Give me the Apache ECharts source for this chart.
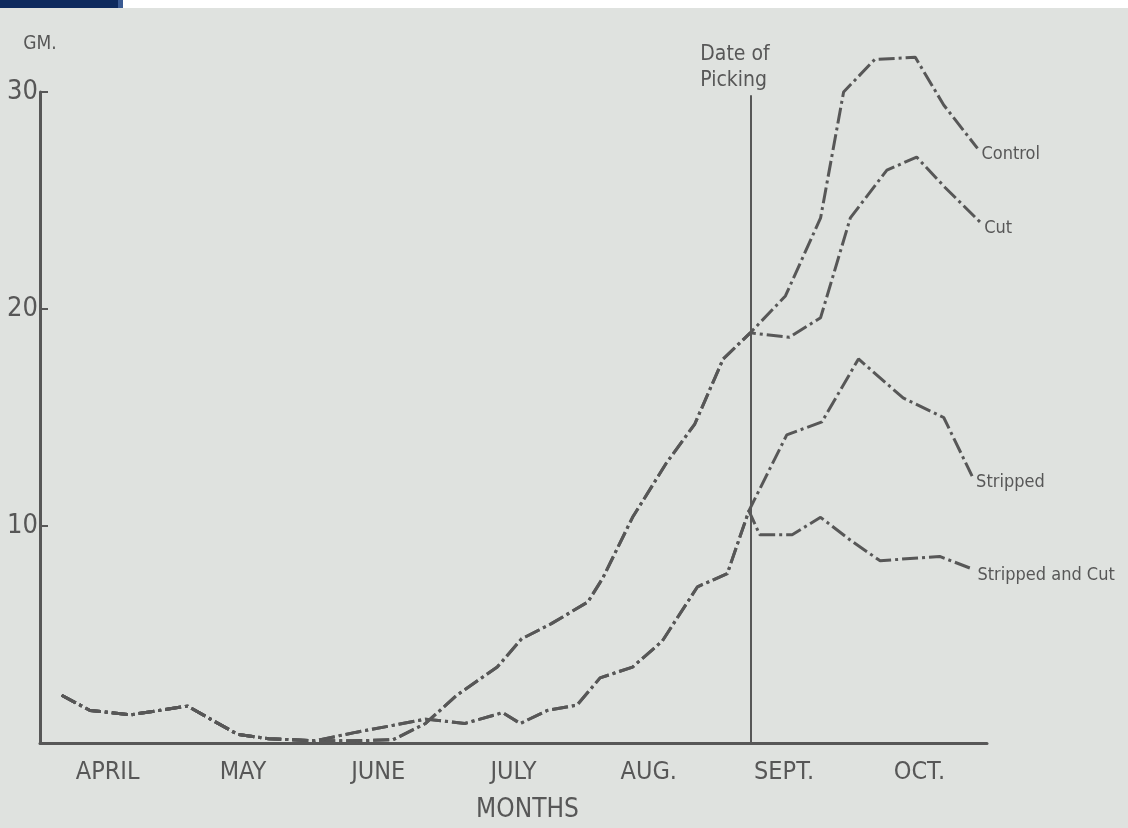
<!DOCTYPE html>
<html>
<head>
<meta charset="utf-8">
<script src="https://cdn.jsdelivr.net/npm/echarts@6/dist/echarts.min.js"></script>
<style>
  html, body { margin: 0; padding: 0; background: #dfe2df; }
  #chart { width: 1128px; height: 828px; }
</style>
</head>
<body>
<div id="chart"></div>
<script>
// months along the bottom, values in GM. x is measured in months from start of April
var months = ['APRIL', 'MAY', 'JUNE', 'JULY', 'AUG.', 'SEPT.', 'OCT.']
var yTicks = [0, 10, 20, 30]
var pickingDate = 5.25

// all four lots together until early June
var earlyAll = [[0.16, 2.2], [0.37, 1.5], [0.67, 1.3], [1.09, 1.7], [1.46, 0.4], [1.69, 0.2], [2.03, 0.1]]
// control + cut (same until picking)
var preUnstripped = [[2.31, 0.1], [2.61, 0.15], [2.85, 0.9], [3.08, 2.2], [3.38, 3.5], [3.56, 4.8], [3.78, 5.5],
  [4.05, 6.5], [4.16, 7.6], [4.38, 10.4], [4.63, 12.9], [4.84, 14.7], [5.05, 17.7], [5.25, 18.9]]
// stripped + stripped and cut (same until picking)
var preStripped = [[2.34, 0.5], [2.6, 0.8], [2.85, 1.1], [3.14, 0.9], [3.42, 1.4], [3.55, 0.9], [3.75, 1.5],
  [3.97, 1.75], [4.14, 3.0], [4.38, 3.5], [4.6, 4.7], [4.86, 7.2], [5.08, 7.8], [5.24, 10.7]]
// after picking
var controlTail = [[5.51, 20.6], [5.77, 24.2], [5.94, 30.0], [6.17, 31.5], [6.47, 31.6], [6.68, 29.4], [6.93, 27.4]]
var cutTail = [[5.54, 18.7], [5.77, 19.6], [5.99, 24.2], [6.26, 26.4], [6.48, 27.0], [6.69, 25.6], [6.95, 24.0]]
var strippedTail = [[5.52, 14.2], [5.78, 14.8], [6.05, 17.7], [6.38, 15.9], [6.68, 15.0], [6.89, 12.3]]
var strippedCutTail = [[5.32, 9.6], [5.56, 9.6], [5.77, 10.4], [6.0, 9.3], [6.21, 8.4], [6.65, 8.6], [6.9, 8.0]]

var seriesNames = ['Control', 'Cut', 'Stripped', 'Stripped and Cut']
var seriesData = [
  earlyAll.concat(preUnstripped, controlTail),
  earlyAll.concat(preUnstripped, cutTail),
  earlyAll.concat(preStripped, strippedTail),
  earlyAll.concat(preStripped, strippedCutTail)
]

var ink = '#575757'
var font = "'DejaVu Sans Condensed', 'Liberation Sans Narrow', 'DejaVu Sans', sans-serif"

var chart = echarts.init(document.getElementById('chart'))

var series = seriesData.map(function (d, i) {
  return {
    name: seriesNames[i],
    type: 'line',
    xAxisIndex: 1,
    data: d,
    symbol: 'none',
    clip: false,
    lineStyle: { color: ink, width: 3, type: [16, 4, 3, 4] },
    endLabel: {
      show: true,
      formatter: '{a}',
      distance: 4,
      offset: [0, 6],
      color: ink,
      fontFamily: font,
      fontSize: 18
    }
  }
})

// date of picking marker
series.push({
  type: 'line',
  xAxisIndex: 1,
  data: [],
  markLine: {
    silent: true,
    symbol: 'none',
    lineStyle: { color: ink, width: 2, type: 'solid' },
    label: {
      show: true,
      position: 'end',
      formatter: 'Date of\nPicking',
      color: ink,
      fontFamily: font,
      fontSize: 21,
      lineHeight: 26,
      align: 'left',
      padding: [0, 0, 0, -50],
      distance: 2
    },
    data: [[{ coord: [pickingDate, 0] }, { coord: [pickingDate, 29.85] }]]
  }
})

var option = {
  backgroundColor: '#dfe2df',
  animation: false,
  grid: { left: 40, right: 141, top: 92, bottom: 83 },
  xAxis: [{
    type: 'category',
    data: months,
    boundaryGap: true,
    name: 'MONTHS',
    nameLocation: 'middle',
    nameGap: 54,
    nameTextStyle: { color: ink, fontFamily: font, fontSize: 26, padding: [0, 0, 0, 28] },
    axisLine: { lineStyle: { color: ink, width: 3 } },
    axisTick: { inside: true, length: 10, lineStyle: { color: ink, width: 2 } },
    axisLabel: { color: ink, fontFamily: font, fontSize: 25, margin: 17 },
    splitLine: { show: false }
  }, {
    type: 'value',
    min: 0,
    max: 7,
    show: false
  }],
  yAxis: {
    type: 'value',
    min: 0,
    max: 30,
    interval: 10,
    name: 'GM.',
    nameLocation: 'end',
    nameGap: 38,
    nameTextStyle: { color: ink, fontFamily: font, fontSize: 19, align: 'center' },
    axisLine: { show: true, lineStyle: { color: ink, width: 3 } },
    axisTick: { show: true, inside: true, length: 8, lineStyle: { color: ink, width: 2 } },
    axisLabel: {
      showMinLabel: false,
      color: ink,
      fontFamily: font,
      fontSize: 27,
      margin: 2,
      verticalAlign: 'middle',
      padding: [0, 0, 10, 0],
      formatter: function (v) { return yTicks.indexOf(v) > 0 ? String(v) : '' }
    },
    splitLine: { show: false }
  },
  graphic: [
    { type: 'rect', left: 0, top: 0, shape: { width: 118, height: 8 }, style: { fill: '#0e2a5e' } },
    { type: 'rect', left: 118, top: 0, shape: { width: 5, height: 8 }, style: { fill: '#3a5a92' } },
    { type: 'rect', left: 123, top: 0, shape: { width: 1005, height: 8 }, style: { fill: '#ffffff' } }
  ],
  series: series
}

chart.setOption(option)
</script>
</body>
</html>
